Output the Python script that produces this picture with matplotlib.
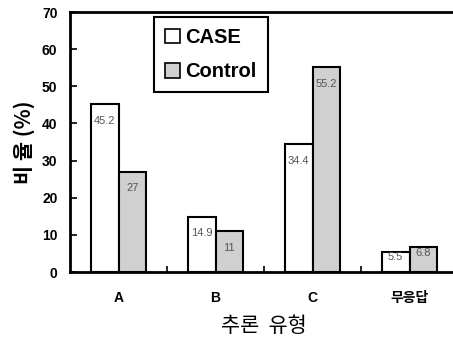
import matplotlib.pyplot as plt
from matplotlib.patches import Patch
import numpy as np

plt.rcParams['font.family'] = ['Liberation Sans', 'Noto Sans CJK KR', 'DejaVu Sans']

# 추론 유형별 응답 비율 (%)
categories = ["A", "B", "C", "무응답"]
case_values = [45.2, 14.9, 34.4, 5.5]
control_values = [27, 11, 55.2, 6.8]
case_labels = ["45.2", "14.9", "34.4", "5.5"]
control_labels = ["27", "11", "55.2", "6.8"]

fig = plt.figure(figsize=(4.53, 3.39), dpi=100)
ax = fig.add_axes([70 / 453, 67 / 339, 388 / 453, 260 / 339])

x = np.arange(len(categories))
w = 0.285
ax.bar(x - w / 2, case_values, w, color="white", edgecolor="black", linewidth=1.5)
ax.bar(x + w / 2, control_values, w, color="#d0d0d0", edgecolor="black", linewidth=1.5)


def label_pos(v):
    # 큰 막대는 안쪽 위, 작은 막대는 막대 윗부분에
    return v - 4.5 if v > 10 else v * 0.75


for i in range(len(categories)):
    ax.text(x[i] - w / 2, label_pos(case_values[i]), case_labels[i],
            ha="center", va="center", fontsize=8, color="#555555")
    ax.text(x[i] + w / 2, label_pos(control_values[i]), control_labels[i],
            ha="center", va="center", fontsize=8, color="#555555")

ax.set_xlim(-0.5, 3.5)
ax.set_ylim(0, 70)
ax.set_yticks(range(0, 71, 10))
ax.set_xticks(x)
ax.set_xticklabels(categories, fontsize=10, fontweight="bold")
ax.set_xticks(x[:-1] + 0.5, minor=True)
ax.tick_params(axis="x", which="major", length=0, pad=14)
ax.tick_params(axis="x", which="minor", direction="in", length=4, width=1.2)
ax.tick_params(axis="y", direction="in", length=5, width=1.2, labelsize=10, pad=9)
for lab in ax.get_yticklabels():
    lab.set_fontweight("bold")

for side in ["left", "top", "bottom"]:
    ax.spines[side].set_linewidth(2)
ax.spines["right"].set_visible(False)

ax.set_ylabel("비 율 (%)", fontsize=15, fontweight="bold",
              family=["Noto Sans CJK KR"], labelpad=5)
ax.set_xlabel("추론  유형", fontsize=15, family=["Noto Sans CJK KR"], labelpad=7)

handles = [Patch(facecolor="white", edgecolor="black", linewidth=1.2, label="CASE"),
           Patch(facecolor="#d0d0d0", edgecolor="black", linewidth=1.2, label="Control")]
leg = fig.legend(handles=handles, loc="upper left", bbox_to_anchor=(154 / 453, 1 - 17 / 339),
                 fancybox=False, edgecolor="black", framealpha=1,
                 prop={"size": 14.5, "weight": "bold"},
                 handlelength=0.75, handleheight=0.75, handletextpad=0.25,
                 labelspacing=0.75, borderpad=0.55, borderaxespad=0)
leg.get_frame().set_linewidth(1.5)

fig.savefig("out.png", dpi=100)
